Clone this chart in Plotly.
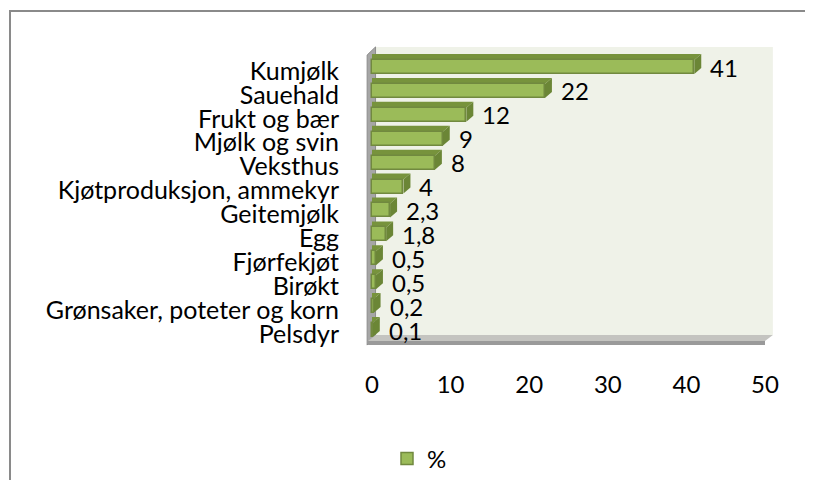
import plotly.graph_objects as go

# ---------------- data ----------------
categories = ["Kumjølk", "Sauehald", "Frukt og bær", "Mjølk og svin", "Veksthus",
              "Kjøtproduksjon, ammekyr", "Geitemjølk", "Egg", "Fjørfekjøt", "Birøkt",
              "Grønsaker, poteter og korn", "Pelsdyr"]
values = [41, 22, 12, 9, 8, 4, 2.3, 1.8, 0.5, 0.5, 0.2, 0.1]
value_labels = ["41", "22", "12", "9", "8", "4", "2,3", "1,8", "0,5", "0,5", "0,2", "0,1"]
x_ticks = [0, 10, 20, 30, 40, 50]
x_tick_labels = ["0", "10", "20", "30", "40", "50"]
series_name = "%"

# ---------------- layout geometry ----------------
# the page body has an 8px default margin; figure is sized to fit the window
W, H = 797, 472
L, R, T, B = 352, 25, 32, 128
plot_w = W - L - R
plot_h = H - T - B
px_x = 7.86          # pixels per x unit
px_y = 23.91         # pixels per category
x_min = -12 / px_x
x_max = x_min + plot_w / px_x
y_max = 11 + 27 / px_y
y_min = y_max - plot_h / px_y

n = len(categories)
pos = [n - 1 - i for i in range(n)]

FONT = "Lato, 'Liberation Sans', Arial, sans-serif"
FS_CAT = 25
FS = 24

face_col = "#9bbb59"
edge_col = "#71893f"
top_col = "#77933c"
side_col = "#6b8636"

bar_w = 0.585
sx = 7 / px_x
sy = 6 / px_y

fig = go.Figure()
fig.add_trace(go.Bar(
    x=values, y=pos, orientation="h", width=bar_w, name=series_name,
    marker=dict(color=face_col, line=dict(color=edge_col, width=1.5)),
    hoverinfo="skip", showlegend=True,
))

shapes = []
# back wall
shapes.append(dict(type="rect", xref="x", yref="y", layer="below",
                   x0=0.5, x1=51.0, y0=-0.21, y1=11.84,
                   fillcolor="#eff2e8", line=dict(width=0)))
# left wall
shapes.append(dict(type="path", xref="x", yref="y", layer="below",
                   path="M -0.62 -0.63 L -0.62 11.5 L 0.45 11.84 L 0.45 -0.21 Z",
                   fillcolor="#a6a6a6", line=dict(color="#8c8c8c", width=1)))
# floor top
shapes.append(dict(type="path", xref="x", yref="y", layer="below",
                   path="M -0.5 -0.46 L 50 -0.46 L 51.0 -0.21 L 0.5 -0.21 Z",
                   fillcolor="#c4c4c0", line=dict(width=0)))
# floor front
shapes.append(dict(type="rect", xref="x", yref="y", layer="below",
                   x0=-0.5, x1=50, y0=-0.63, y1=-0.46,
                   fillcolor="#9a9a9a", line=dict(width=0)))

# bar 3D facets
for v, p in zip(values, pos):
    top = p + bar_w / 2
    bot = p - bar_w / 2
    shapes.append(dict(type="path", xref="x", yref="y", layer="below",
                       path=f"M 0 {top} L {v} {top} L {v+sx} {top+sy} L 0 {top+sy} Z",
                       fillcolor=top_col, line=dict(width=0)))
    shapes.append(dict(type="path", xref="x", yref="y", layer="below",
                       path=f"M {v} {bot} L {v} {top} L {v+sx} {top+sy} L {v+sx} {bot+sy} Z",
                       fillcolor=side_col, line=dict(width=0)))

# outer chart border: left and top edges only (right/bottom are cropped off)
def px2paper_x(px):
    return (px - L) / plot_w

def px2paper_y(py):
    return ((H - B) - py) / plot_h

shapes.append(dict(type="line", xref="paper", yref="paper", layer="above",
                   x0=px2paper_x(2), x1=px2paper_x(2),
                   y0=px2paper_y(H + 5), y1=px2paper_y(2),
                   line=dict(color="#8a8a8a", width=2)))
shapes.append(dict(type="line", xref="paper", yref="paper", layer="above",
                   x0=px2paper_x(1), x1=px2paper_x(W + 5),
                   y0=px2paper_y(3), y1=px2paper_y(3),
                   line=dict(color="#8a8a8a", width=2)))

annotations = []
for v, p, t in zip(values, pos, value_labels):
    annotations.append(dict(x=v, y=p, xref="x", yref="y", text=t, showarrow=False,
                            xanchor="left", yanchor="middle", xshift=14,
                            font=dict(family=FONT, size=FS, color="black")))

fig.update_layout(
    width=W, height=H,
    margin=dict(l=L, r=R, t=T, b=B, pad=0, autoexpand=False),
    paper_bgcolor="white", plot_bgcolor="rgba(0,0,0,0)",
    font=dict(family=FONT, size=FS, color="black"),
    shapes=shapes, annotations=annotations,
    bargap=0,
    showlegend=True,
    legend=dict(orientation="h", xref="container", yref="container",
                x=379 / W, y=(H - 451) / H, xanchor="left", yanchor="middle",
                font=dict(family=FONT, size=FS, color="black"),
                bgcolor="rgba(0,0,0,0)"),
    xaxis=dict(range=[x_min, x_max], tickvals=x_ticks, ticktext=x_tick_labels,
               showgrid=False, zeroline=False, showline=False,
               ticks="outside", ticklen=11, tickcolor="rgba(0,0,0,0)",
               tickfont=dict(family=FONT, size=FS, color="black"), fixedrange=True),
    yaxis=dict(range=[y_min, y_max], tickvals=pos, ticktext=categories,
               showgrid=False, zeroline=False, showline=False,
               ticks="outside", ticklen=15, tickcolor="rgba(0,0,0,0)",
               ticklabelshift=4,
               tickfont=dict(family=FONT, size=FS_CAT, color="black"), fixedrange=True),
)

fig.write_html("out.html")
